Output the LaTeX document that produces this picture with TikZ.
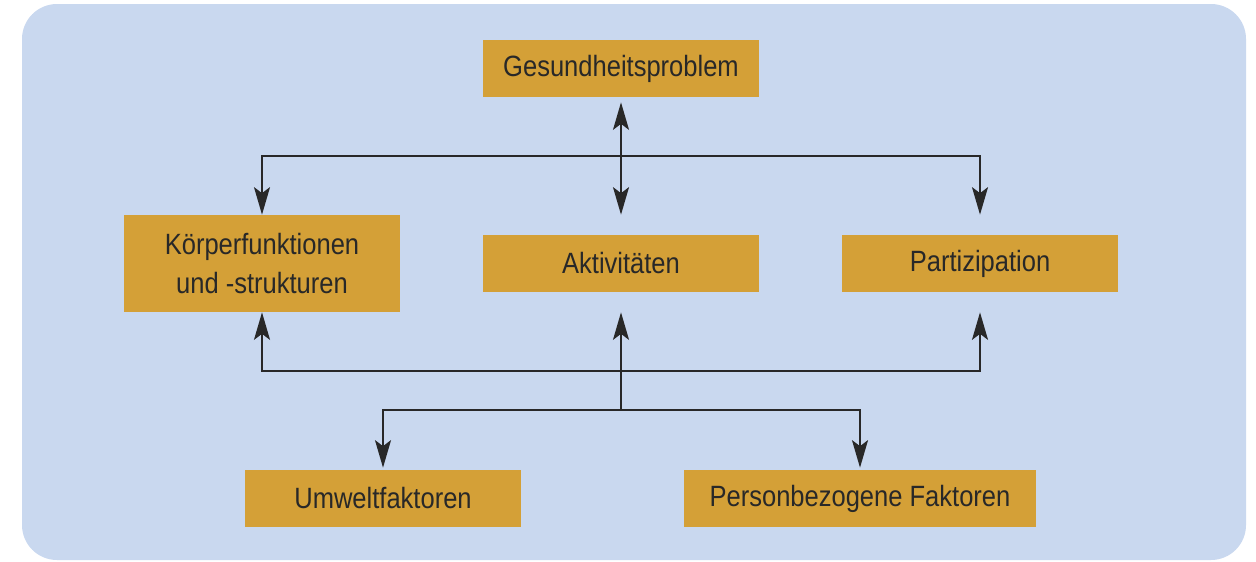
\documentclass[tikz,border=0pt]{standalone}
\usepackage{fontspec}
\setmainfont{Liberation Sans}[FakeStretch=0.87]
\usetikzlibrary{arrows.meta}
\definecolor{bgblue}{RGB}{201,216,239}
\definecolor{boxgold}{RGB}{212,160,55}
\definecolor{inkgray}{RGB}{40,40,40}
\begin{document}
\begin{tikzpicture}[x=0.02cm,y=-0.02cm,
  box/.style={fill=boxgold,text=inkgray,minimum width=5.52cm,minimum height=1.14cm,
    inner sep=0pt,align=center,font=\fontsize{16.7}{22}\selectfont},
  link/.style={draw=inkgray,line width=1.1pt,
    -{Stealth[length=0.55cm,width=0.32cm,inset=0.12cm]}}]
\useasboundingbox (0,0) rectangle (1256,561);
\fill[bgblue,rounded corners=0.7cm] (22,4) rectangle (1246,560);

\node[box] (gp) at (621,68.5) {Gesundheitsproblem};
\node[box,minimum height=1.94cm] (kf) at (262,263.5) {Körperfunktionen\\und -strukturen};
\node[box] (akt) at (621,263.5) {Aktivitäten};
\node[box] (part) at (980,263.5) {Partizipation};
\node[box] (umw) at (383,498.5) {Umweltfaktoren};
\node[box,minimum width=7.04cm] (pers) at (860,498.5) {Personbezogene Faktoren};

\coordinate (top) at (621,156);
\coordinate (mid) at (621,371);
\coordinate (low) at (621,410);

\draw[link,{Stealth[length=0.55cm,width=0.32cm,inset=0.12cm]}-{Stealth[length=0.55cm,width=0.32cm,inset=0.12cm]},shorten <=0.1cm]
  (gp.south) -- (akt.north |- kf.north);
\draw[link] (top) -| (kf.north);
\draw[link] (top) -| (part.north |- kf.north);

\draw[link] (low) -- (akt.south |- kf.south);
\draw[link] (mid) -| (kf.south);
\draw[link] (mid) -| (part.south |- kf.south);
\draw[link,shorten >=0.04cm] (low) -| (umw.north);
\draw[link,shorten >=0.04cm] (low) -| (pers.north);
\end{tikzpicture}
\end{document}
